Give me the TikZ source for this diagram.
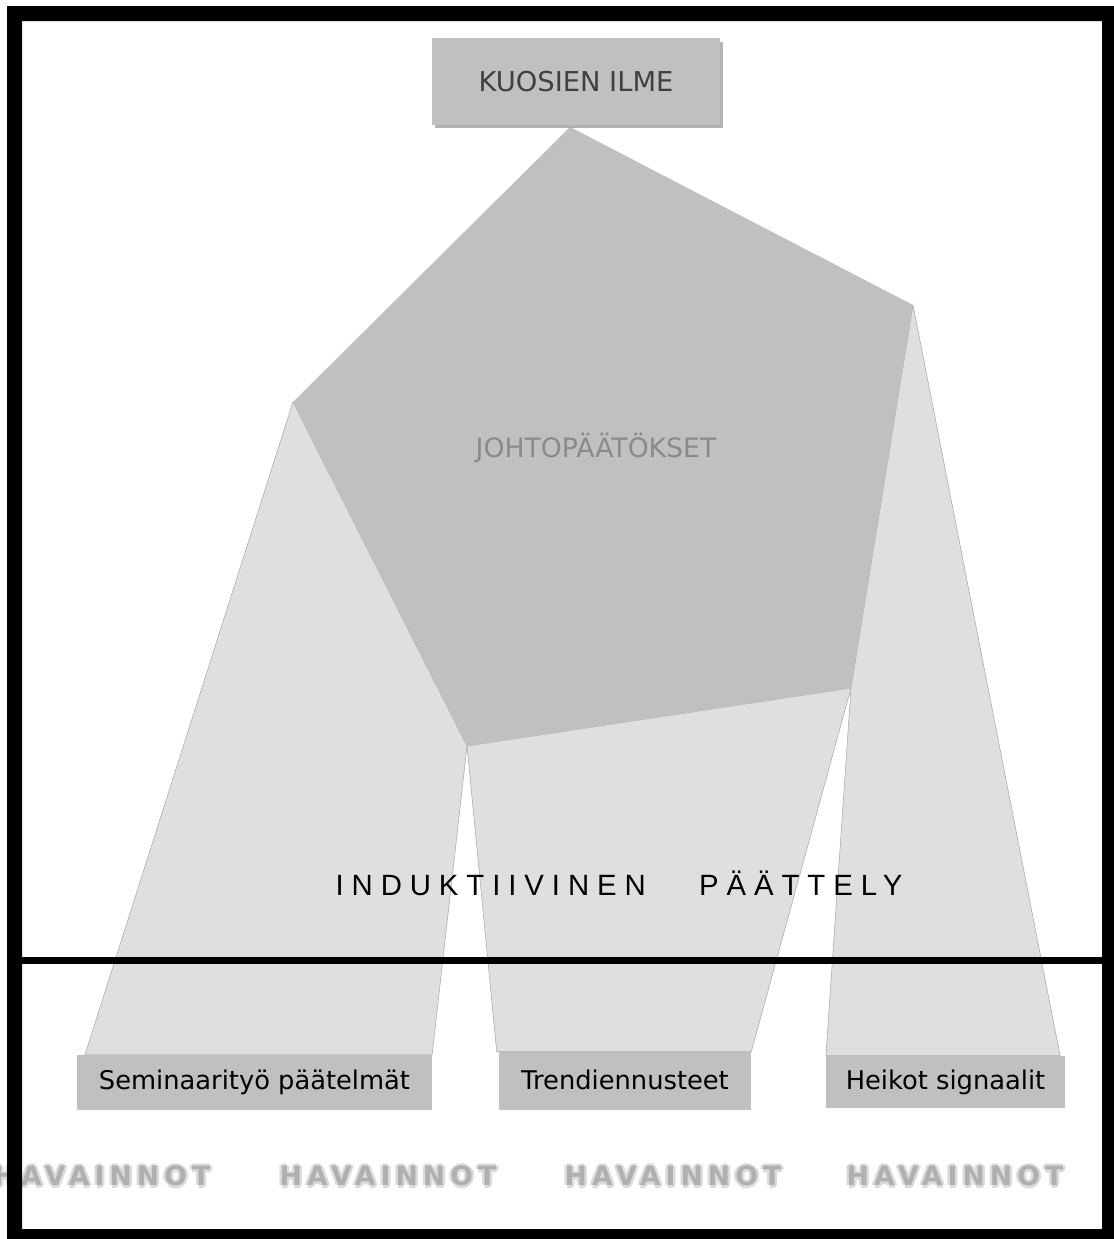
\documentclass[tikz,border=0pt]{standalone}
\usepackage{fontspec}
\setmainfont{DejaVu Sans}
\newfontfamily\spacedfont{Liberation Sans}[LetterSpace=27]
\newfontfamily\havfont{DejaVu Sans}[LetterSpace=19]
\usetikzlibrary{shadows,backgrounds}
\definecolor{boxgray}{HTML}{C0C0C0}
\definecolor{leggray}{HTML}{DFDFDF}
\definecolor{edgegray}{HTML}{A8A8A8}

\begin{document}
\begin{tikzpicture}[x=0.75pt,y=-0.75pt,
  box/.style={fill=boxgray,inner sep=0pt,font=\fontsize{19.3}{22}\selectfont},
  leg/.style={fill=leggray,draw=edgegray,line width=0.4pt},
  havainto/.style={font=\havfont\bfseries\fontsize{20}{24}\selectfont}]

\useasboundingbox (0,0) rectangle (1114,1239);

\node[box,drop shadow={shadow xshift=2.5pt,shadow yshift=-2.5pt,opacity=0.6},
  minimum width=216pt,minimum height=65pt,text=black!75,font=\fontsize{20.5}{24}\selectfont] (ilme) at (576,81.5) {KUOSIEN ILME};

\node[box,minimum width=266pt,minimum height=41pt] (sem) at (254.5,1082.5) {\raisebox{2pt}{Seminaarityö päätelmät}};
\node[box,minimum width=189pt,minimum height=43.5pt] (trend) at (625,1081) {\raisebox{2pt}{Trendiennusteet}};
\node[box,minimum width=179pt,minimum height=39pt] (heik) at (945.5,1082) {\raisebox{2pt}{Heikot signaalit}};

% pentagon corners
\coordinate (ptop) at (570,127);
\coordinate (pright) at (913,305);
\coordinate (pbr) at (851,688);
\coordinate (pbl) at (467,746);
\coordinate (pleft) at (293,402);

\begin{pgfonlayer}{background}
  \draw[leg] (pleft) -- (pbl) -- (sem.north east) -- ([xshift=6pt]sem.north west) -- cycle;
  \draw[leg] (pbl) -- (pbr) -- (trend.north east) -- ([xshift=-1.5pt]trend.north west) -- cycle;
  \draw[leg] (pbr) -- (pright) -- ([xshift=-3.75pt]heik.north east) -- (heik.north west) -- cycle;
  \fill[boxgray] (ptop) -- (pright) -- (pbr) -- (pbl) -- (pleft) -- cycle;
\end{pgfonlayer}

\node[text=black!46,font=\fontsize{20}{24}\selectfont] (johto) at (596,448) {JOHTOPÄÄTÖKSET};

\node[font=\spacedfont\fontsize{22}{26}\selectfont] (induktio) at (619,883) {INDUKTIIVINEN\hspace{40pt}PÄÄTTELY};

\draw[line width=5.25pt] (22,960) -- (1102,960);

\foreach \x [count=\i] in {102,388,673,955} {
  \foreach \dx/\dy in {-2.5/0,2.5/0,0/-2.5,0/2.5,-1.5/-1.5,1.5/1.5}
    \node[havainto,text=gray!28] at (\x+\dx,1176+\dy) {HAVAINNOT};
  \node[havainto,text=gray!62] (hav\i) at (\x,1176) {HAVAINNOT};
}

\fill[black,even odd rule] (7,6) rectangle (1114,1239) (22,21) rectangle (1102,1229);
\end{tikzpicture}
\end{document}
